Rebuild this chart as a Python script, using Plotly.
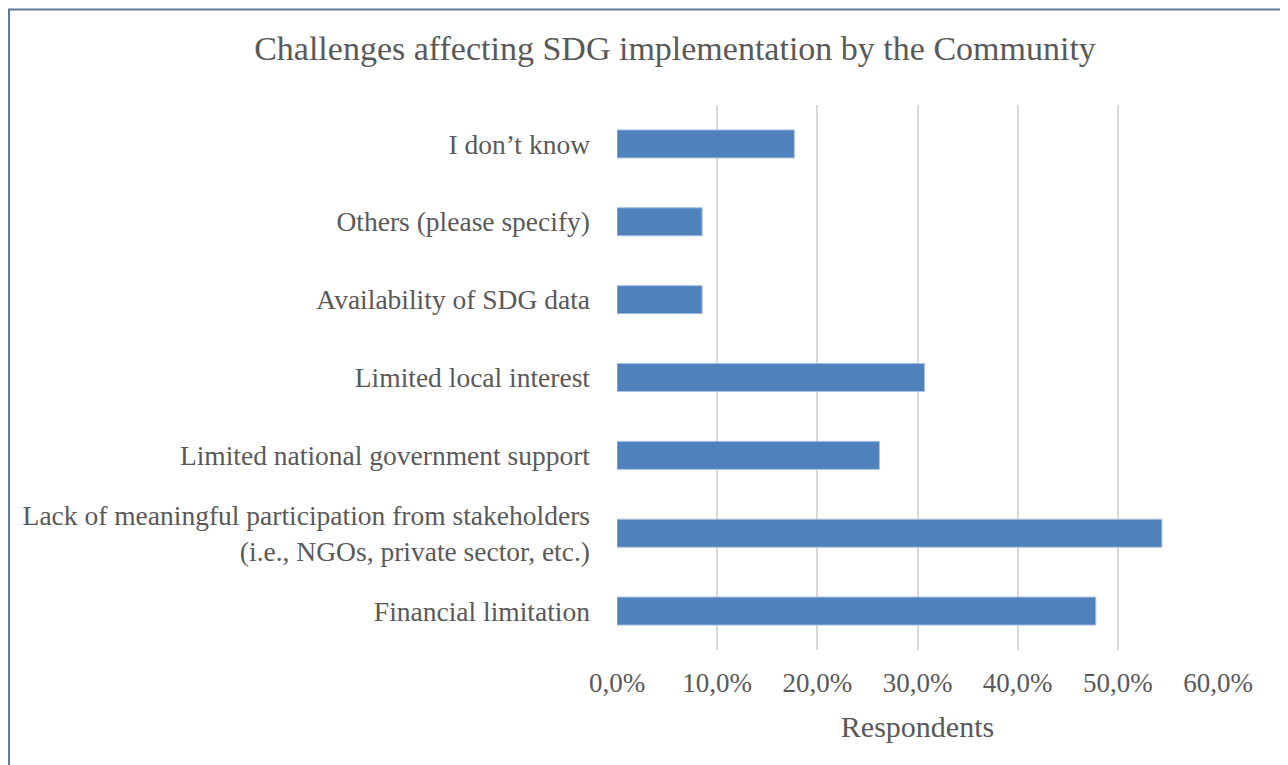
import plotly.graph_objects as go

categories = [
    "Financial limitation",
    "Lack of meaningful participation from stakeholders<br>(i.e., NGOs, private sector, etc.)",
    "Limited national government support",
    "Limited local interest",
    "Availability of SDG data",
    "Others (please specify)",
    "I don\u2019t know",
]
values = [0.478, 0.544, 0.262, 0.307, 0.085, 0.085, 0.177]
tick_vals = [0, 0.1, 0.2, 0.3, 0.4, 0.5, 0.6]

FONT = "Liberation Serif"
GRAY = "#595959"

fig = go.Figure(go.Bar(
    x=values, y=categories, orientation="h",
    marker=dict(color="#4f81bd", line=dict(color="#a9c1e2", width=1)),
    width=0.36,
))

# page is offset by the 8px body margin
OFF = 8
W, H = 1288, 765
L = 617 - OFF
R = W - (1218 - OFF)
T = 104.5 - OFF
B = H - (650 - OFF)
pw, ph = W - L - R, H - T - B

fig.update_layout(
    width=W, height=H,
    margin=dict(l=L, r=R, t=T, b=B),
    plot_bgcolor="white", paper_bgcolor="white",
    showlegend=False,
    title=dict(text="Challenges affecting SDG implementation by the Community",
               x=(675 - OFF) / W, xanchor="center", y=1 - (48 - OFF) / H, yanchor="middle",
               font=dict(family=FONT, size=34, color=GRAY)),
    xaxis=dict(range=[0, 0.6], tickvals=tick_vals, tickformat=".1%",
               showgrid=True, gridcolor="#d9d9d9", gridwidth=2,
               zeroline=False, showline=False,
               tickfont=dict(family=FONT, size=27, color=GRAY),
               ticklabelstandoff=14,
               title=dict(text="Respondents", font=dict(family=FONT, size=30, color=GRAY),
                          standoff=18)),
    yaxis=dict(showgrid=False, zeroline=False, showline=False,
               tickfont=dict(family=FONT, size=27.5, color=GRAY),
               ticklabelstandoff=26, range=[-0.5, 6.5]),
    separators=",.",
    shapes=[dict(type="rect", xref="paper", yref="paper",
                 x0=(1 - L) / pw, x1=(W + 40 - L) / pw,
                 y0=-(H + 20 - T - ph) / ph, y1=1 + (T - 1) / ph,
                 line=dict(color="#5f7a96", width=2), layer="below")],
)

fig.write_html("out.html")
